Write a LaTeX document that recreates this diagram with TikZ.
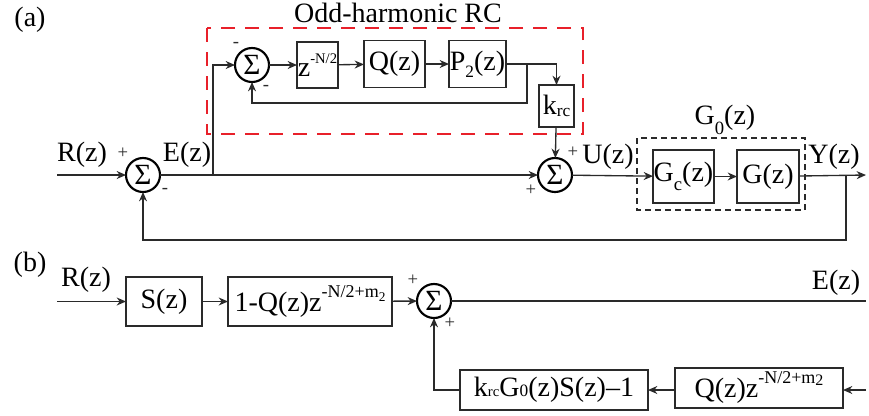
\documentclass[tikz,border=0pt]{standalone}
\usepackage{fontspec}
\setmainfont{Liberation Serif}
\usetikzlibrary{arrows.meta}
\definecolor{ln}{HTML}{2A2A2A}
\definecolor{rd}{HTML}{E8202A}
\begin{document}
\begin{tikzpicture}[x=0.75pt,y=-0.75pt,
  every node/.style={inner sep=0pt,outer sep=0pt,font=\fontsize{21}{24}\selectfont,text=black},
  sumnode/.style={circle,draw=black,line width=1.6pt,minimum size=25.5pt,font=\fontsize{22}{24}\selectfont},
  blk/.style={draw=ln,line width=1pt},
  sig/.style={ln,line width=1pt},
  arr/.style={sig,-{Stealth[length=7pt,width=6pt]}},
  sgn/.style={font=\fontsize{14}{15}\selectfont,text=ln},
  lbl/.style={font=\fontsize{21}{24}\selectfont}]
\useasboundingbox (0,0) rectangle (869,415);
% ---------------- (a)
\node[lbl] (la) at (30,20) {(a)};
\node[lbl] (title) at (398,13) {Odd-harmonic RC};
\node[sumnode] (s1) at (143,175) {Σ};
\node[sumnode] (si) at (252,65) {Σ};
\node[blk,minimum width=30.75pt,minimum height=34.5pt] (zn) at (317.5,65) {};
\node at (zn.center) {z\raisebox{0.45em}{\fontsize{11}{12}\selectfont -N/2}};
\node[blk,minimum width=45.75pt,minimum height=35.25pt] (q) at (394.5,64) {Q(z)};
\node[blk,minimum width=42.75pt,minimum height=35.25pt] (p) at (477.5,64) {P\raisebox{-0.25em}{\fontsize{13}{14}\selectfont 2}(z)};
\node[blk,minimum width=26.25pt,minimum height=31.5pt] (k) at (556.5,106) {k\raisebox{-0.05em}{\fontsize{13}{14}\selectfont rc}};
\node[sumnode] (s2) at (555,175) {Σ};
\node[blk,minimum width=45.75pt,minimum height=39.75pt] (gc) at (683.5,176.5) {G\raisebox{-0.3em}{\fontsize{14}{14}\selectfont c}(z)};
\node[blk,minimum width=46.5pt,minimum height=39.75pt] (g) at (768,176.5) {G(z)};
\draw[rd,line width=2pt,dash pattern=on 10.5pt off 7.5pt] (207,28) rectangle (583,134);
\draw[ln,line width=0.8pt,dash pattern=on 4.5pt off 3pt] (637,138) rectangle (805,210);
\node[lbl] (g0) at (725,120) {G\raisebox{-0.35em}{\fontsize{14}{14}\selectfont 0}(z)};
\node[lbl] (rz) at (82,155) {R(z)};
\node[lbl] (ez) at (187,155) {E(z)};
\node[lbl] (uz) at (608,157) {U(z)};
\node[lbl] (yz) at (834,157) {Y(z)};
\node[sgn] (p1) at (123,153) {+};
\node[sgn] (m1) at (165,191) {-};
\node[sgn] (m2) at (236,45) {-};
\node[sgn] (m3) at (266,88) {-};
\node[sgn] (p2) at (573,152) {+};
\node[sgn] (p3) at (531,190) {+};
\coordinate (ain) at (57,175);
\coordinate (br1) at (213,175);
\coordinate (br2) at (527,64);
\coordinate (aout) at (866,175);
\coordinate (br3) at (846,175);
\draw[arr] (ain) -- (s1);
\draw[sig] (s1) -- (br1);
\draw[arr] (br1) -- (s2);
\draw[arr] (br1) |- (si);
\draw[arr] (si) -- (zn);
\draw[arr] (zn) -- (q);
\draw[arr] (q) -- (p);
\draw[arr] (p.east) -| (k.north);
\draw[arr] (br2) |- (252,103) -- (si.south);
\draw[arr] (k) -- (s2);
\draw[arr] (s2) -- (gc);
\draw[arr] (gc) -- (g);
\draw[arr] (g) -- (aout);
\draw[arr] (br3) |- (143,240) -- (s1.south);
% ---------------- (b)
\node[lbl] (lb) at (30,265) {(b)};
\node[lbl] (rb) at (86,280) {R(z)};
\node[blk,minimum width=57pt,minimum height=36.75pt] (s) at (164,301.5) {S(z)};
\node[blk,minimum width=123pt,minimum height=36.75pt] (oq) at (310,301.5) {1-Q(z)z\raisebox{0.5em}{\fontsize{13.5}{14}\selectfont -N/2+m\raisebox{-0.2em}{\fontsize{10}{11}\selectfont 2}}};
\node[sumnode] (s3) at (434,301) {Σ};
\node[lbl] (eb) at (836,283) {E(z)};
\node[sgn] (p4) at (413,280) {+};
\node[sgn] (p5) at (450,323) {+};
\node[blk,minimum width=141pt,minimum height=30pt] (kg) at (554,390) {k{\fontsize{11}{12}\selectfont rc}G{\fontsize{13}{14}\selectfont 0}(z)S(z)\textendash 1};
\node[blk,minimum width=126pt,minimum height=30pt] (qz) at (759,388) {Q(z)z\raisebox{0.5em}{\fontsize{13.5}{14}\selectfont -N/2+m\raisebox{-0.1em}{\fontsize{12}{13}\selectfont 2}}};
\coordinate (bin) at (57,301.5);
\coordinate (bout) at (866,301);
\coordinate (bin2) at (866,390);
\draw[arr] (bin) -- (s);
\draw[arr] (s) -- (oq);
\draw[arr] (oq) -- (s3);
\draw[sig] (s3) -- (bout);
\draw[arr] (bin2) -- (qz.east |- 0,390);
\draw[arr] (qz.west |- 0,390) -- (kg);
\draw[arr] (kg.west) -| (s3.south);
\end{tikzpicture}
\end{document}
